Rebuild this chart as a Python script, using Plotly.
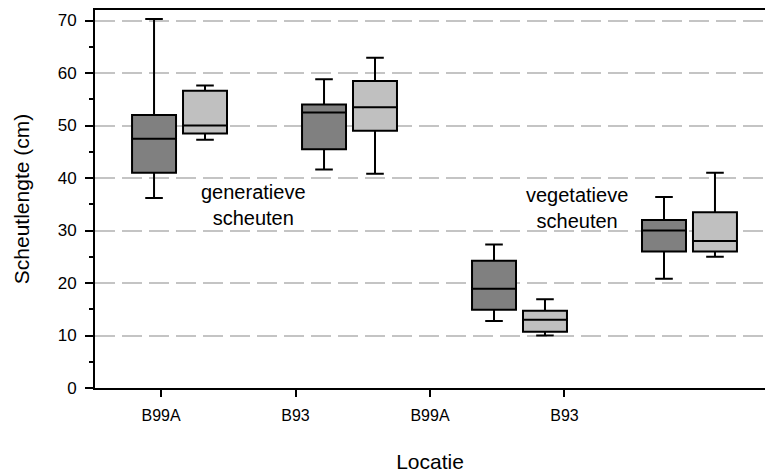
import plotly.graph_objects as go

# Locations along the x axis (two shoot types, each measured at two locations)
locaties = ["B99A", "B93", "B99A", "B93"]

# Shoot length statistics (cm), dark series
donker_q1 = [41.0, 45.5, 14.9, 26.0]
donker_med = [47.5, 52.5, 18.9, 30.0]
donker_q3 = [52.0, 54.0, 24.25, 32.0]
donker_min = [36.2, 41.6, 12.75, 20.8]
donker_max = [70.3, 58.8, 27.35, 36.4]

# Shoot length statistics (cm), light series
licht_q1 = [48.5, 49.0, 10.7, 26.0]
licht_med = [50.0, 53.5, 13.0, 28.0]
licht_q3 = [56.6, 58.5, 14.7, 33.5]
licht_min = [47.3, 40.8, 10.0, 25.0]
licht_max = [57.6, 62.9, 16.9, 41.0]

FONT = "Liberation Sans, Arial, sans-serif"

# layout of the boxes on the numeric x axis
tick_pos = [i + 1 for i in range(len(locaties))]
group_step = 1.264
first_box = 0.948
pair_gap = 0.379
box_w = 0.327
donker_x = [first_box + i * group_step for i in range(len(locaties))]
licht_x = [x + pair_gap for x in donker_x]

fig = go.Figure()


def add_boxes(xs, q1, med, q3, lo, hi, fill):
    fig.add_trace(go.Box(
        x=xs, q1=q1, median=med, q3=q3, lowerfence=lo, upperfence=hi,
        width=box_w, whiskerwidth=0.4, fillcolor=fill,
        line=dict(color="black", width=2), boxpoints=False,
        showlegend=False, hoverinfo="skip",
    ))


add_boxes(donker_x, donker_q1, donker_med, donker_q3, donker_min, donker_max, "#808080")
add_boxes(licht_x, licht_q1, licht_med, licht_q3, licht_min, licht_max, "#c0c0c0")

fig.add_annotation(x=1.691, y=34.9, text="generatieve<br>scheuten", showarrow=False,
                   font=dict(family=FONT, size=20, color="black"), xanchor="center", yanchor="middle")
fig.add_annotation(x=4.093, y=34.3, text="vegetatieve<br>scheuten", showarrow=False,
                   font=dict(family=FONT, size=20, color="black"), xanchor="center", yanchor="middle")

fig.update_layout(
    width=765, height=473,
    margin=dict(l=95, r=0, t=10, b=85),
    paper_bgcolor="white", plot_bgcolor="white",
    boxmode="overlay",
    font=dict(family=FONT, color="black"),
    xaxis=dict(
        range=[0.509, 5.491], tickvals=tick_pos, ticktext=locaties,
        showgrid=False, zeroline=False,
        showline=True, linecolor="black", linewidth=2, mirror=True,
        ticks="outside", ticklen=7, tickwidth=1.5, tickcolor="black",
        ticklabelstandoff=5,
        tickfont=dict(family=FONT, size=16, color="black"),
        title=dict(text="Locatie", font=dict(family=FONT, size=21, color="black"), standoff=32),
    ),
    yaxis=dict(
        range=[0, 72], tickvals=[0, 10, 20, 30, 40, 50, 60, 70],
        showgrid=True, gridcolor="#c4c4c4", gridwidth=1.5, griddash="20px,7px",
        zeroline=False,
        showline=True, linecolor="black", linewidth=2,
        ticks="outside", ticklen=8, tickwidth=1.5, tickcolor="black",
        minor=dict(ticks="outside", ticklen=4, tickwidth=1.5, tickcolor="black",
                   dtick=5, tick0=0, showgrid=False),
        ticklabelstandoff=5,
        tickfont=dict(family=FONT, size=17, color="black"),
        title=dict(text="Scheutlengte (cm)", font=dict(family=FONT, size=21, color="black"), standoff=22),
    ),
)

fig.write_html("out.html")
